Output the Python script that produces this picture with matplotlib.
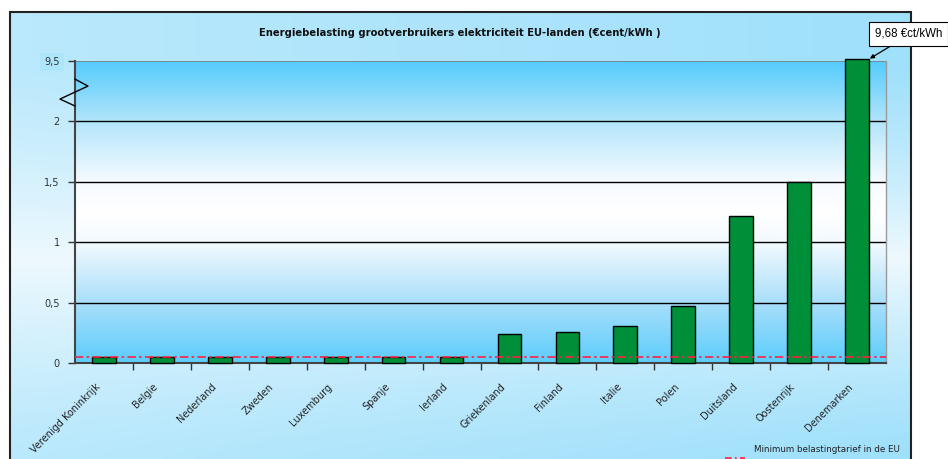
import numpy as np
import matplotlib
matplotlib.use("Agg")
import matplotlib.pyplot as plt
from matplotlib.colors import LinearSegmentedColormap, to_rgb
from matplotlib.patches import Rectangle

countries = ['Verenigd Koninkrijk', 'Belgie', 'Nederland', 'Zweden', 'Luxemburg',
             'Spanje', 'Ierland', 'Griekenland', 'Finland', 'Italie', 'Polen',
             'Duitsland', 'Oostenrijk', 'Denemarken']
tax = [0.05, 0.05, 0.05, 0.05, 0.05, 0.05, 0.05, 0.24, 0.26, 0.31, 0.47, 1.22, 1.50, 9.68]
eu_minimum = 0.05
ytick_vals = [0, 0.5, 1, 1.5, 2, 2.5]
ytick_labels = ['0', '0,5', '1', '1,5', '2', '9,5']
title = 'Energiebelasting grootverbruikers elektriciteit EU-landen (€cent/kWh )'
note = '9,68 €ct/kWh'
legend_label = 'Minimum belastingtarief in de EU'

plt.rcParams['font.family'] = ['DejaVu Sans']
W, H = 948, 459
fig = plt.figure(figsize=(W / 100, H / 100), dpi=100)
fig.patch.set_facecolor('white')

# chart area background (gradient), box from (10,12) to (911, bottom)
bg = fig.add_axes([10 / W, 0, 901 / W, 1 - 12 / H], zorder=0)
yy = np.linspace(0, 1, 200)[:, None]
xx = np.linspace(0, 1, 300)[None, :]
top_c = np.array(to_rgb('#9fe0fb'))
mid_c = np.array(to_rgb('#eef9fe'))
w = np.clip(1 - np.abs(yy - 0.45) / 0.45, 0, 1) ** 1.3
w = np.clip(w + 0.35 * (1 - xx) * (1 - w), 0, 1)
img = top_c * (1 - w[..., None]) + mid_c * w[..., None]
bg.imshow(img, aspect='auto', extent=[0, 1, 0, 1], origin='lower')
bg.set_xlim(0, 1)
bg.set_ylim(0, 1)
bg.axis('off')
fig.add_artist(Rectangle((10 / W, -0.01), 901 / W, 1 - 12 / H + 0.01,
                         transform=fig.transFigure, fill=False,
                         edgecolor='#222222', linewidth=1.5, zorder=1))

ax = fig.add_axes([75 / W, 1 - 363 / H, 811 / W, 302 / H], zorder=2)
cmap = LinearSegmentedColormap.from_list('plotbg', [
    (0.0, '#5ccdfc'), (0.2, '#a9dffa'), (0.4, '#f3faff'), (0.5, '#ffffff'),
    (0.6, '#f6fbff'), (0.8, '#b3e5fb'), (1.0, '#55ccfd')])
ax.imshow(np.linspace(0, 1, 256)[:, None], cmap=cmap, aspect='auto',
          extent=[0, 1, 0, 1], origin='lower', transform=ax.transAxes, zorder=0)

x = np.arange(len(countries))
ymax = 2.5
shown = np.minimum(np.array(tax), ymax + 0.02)
ax.bar(x, shown, width=0.41, color='#008f39', edgecolor='black', linewidth=1,
       zorder=3, clip_on=False)
ax.axhline(eu_minimum, color='#ff2040', linestyle=(0, (5, 2, 1.5, 2)), linewidth=1.2, zorder=4)

ax.set_xlim(-0.5, len(countries) - 0.5)
ax.set_ylim(0, ymax)
ax.set_yticks(ytick_vals)
ax.set_yticklabels(ytick_labels, fontsize=7, color='#333333')
for yv in ytick_vals[1:-1]:
    ax.axhline(yv, color='black', linewidth=1, zorder=1)
ax.axhline(ymax, color='#808080', linewidth=1.2, zorder=1)
ax.set_xticks(x[:-1] + 0.5, minor=False)
ax.set_xticklabels([])
ax.tick_params(axis='x', length=5, width=1, color='#333333', direction='out')
ax.tick_params(axis='y', length=5, width=1, color='#333333', direction='out', pad=6)
for s in ['left', 'bottom']:
    ax.spines[s].set_color('#444444')
    ax.spines[s].set_linewidth(1.5)
ax.spines['top'].set_visible(False)
ax.spines['right'].set_color('#9a9a9a')
ax.spines['right'].set_linewidth(1)

# highlight behind top tick label
ax.get_yticklabels()[-1].set_bbox(dict(facecolor='#ade6fb', edgecolor='none', pad=3))

for i, name in enumerate(countries):
    ax.annotate(name, (i, 0), xycoords=('data', 'axes fraction'),
                xytext=(-4, -16), textcoords='offset points',
                rotation=45, rotation_mode='anchor', ha='right', va='center',
                fontsize=7, color='#222222')

# axis break zigzag
ax.plot([0, 0.016, -0.0185, 0], [0.94, 0.917, 0.874, 0.851], color='black',
        linewidth=1, transform=ax.transAxes, clip_on=False, zorder=5)

fig.text(460 / W, 1 - 33 / H, title, ha='center', va='center', fontsize=7.2,
         fontweight='bold', color='#111111')

ax.annotate(note, xy=(len(countries) - 1 + 0.22, shown[-1]), xycoords='data',
            xytext=(875 / W, 1 - 34 / H), textcoords='figure fraction',
            ha='left', va='center', fontsize=8.3, color='black', annotation_clip=False,
            family=['Liberation Sans', 'DejaVu Sans'],
            bbox=dict(boxstyle='square,pad=0.5', facecolor='white', edgecolor='black', linewidth=0.8),
            arrowprops=dict(arrowstyle='-|>', color='black', lw=0.9, mutation_scale=6,
                            shrinkA=0, shrinkB=0, relpos=(0.38, 0)), zorder=10)

fig.text(827 / W, 1 - 449 / H, legend_label, ha='center', va='center', fontsize=6.3,
         color='#222222')
fig.add_artist(plt.Line2D([725 / W, 745 / W], [1 - 458 / H, 1 - 458 / H],
                          color='#ff2040', linestyle=(0, (4, 2, 1, 2)), linewidth=1.2,
                          transform=fig.transFigure))

fig.savefig('out.png', dpi=100, facecolor='white')
